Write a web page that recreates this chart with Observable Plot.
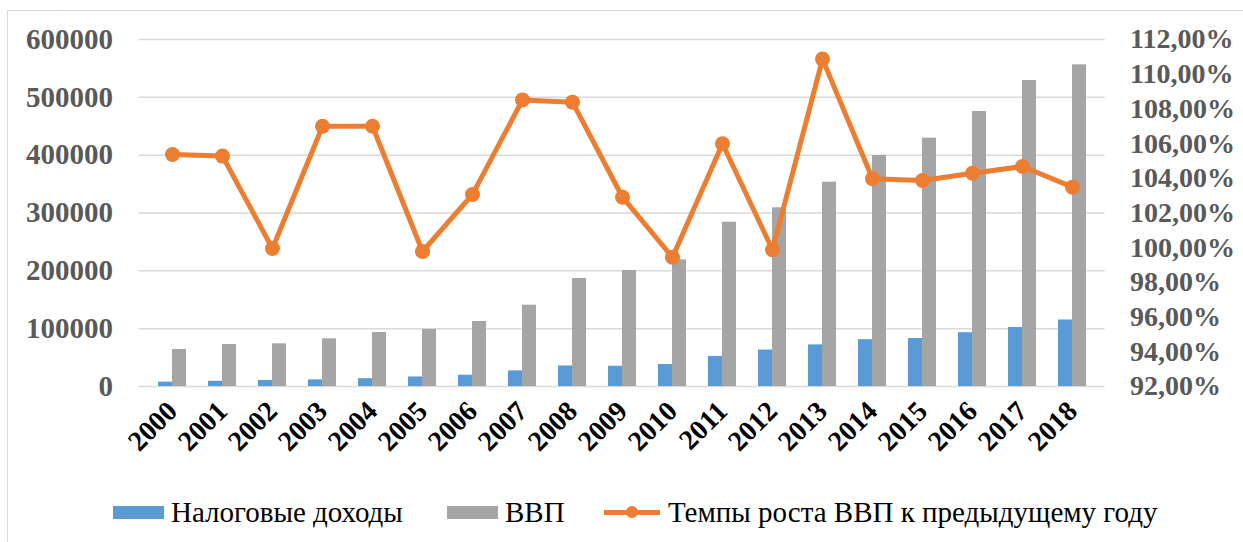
<!DOCTYPE html>
<html><head><meta charset="utf-8">
<script src="https://cdn.jsdelivr.net/npm/d3@7"></script>
<script src="https://cdn.jsdelivr.net/npm/@observablehq/plot@0.6"></script>
<style>
body{margin:0;background:#fff;font-family:"Liberation Serif","Times New Roman","DejaVu Serif",serif;}
#wrap{position:relative;width:1243px;height:542px;overflow:hidden;background:#fff;}
#frame{position:absolute;left:7px;top:10px;width:1300px;height:600px;border-left:1.5px solid #D9D9D9;border-top:1.5px solid #D9D9D9;}
#chart{position:absolute;left:0;top:0;}
.item{position:absolute;top:497px;height:30px;display:flex;align-items:center;font-size:29px;color:#000;white-space:nowrap;font-family:"Liberation Serif","Times New Roman","DejaVu Serif",serif;}
.sw{display:inline-block;width:51px;height:13px;margin-right:7px;}
.ln{position:relative;display:inline-block;width:56px;height:30px;margin-right:8px;}
.ln:before{content:"";position:absolute;left:0;right:0;top:13px;height:4.5px;background:#ED7D31;}
.ln:after{content:"";position:absolute;left:22px;top:9px;width:12px;height:12px;border-radius:50%;background:#ED7D31;}
</style></head>
<body>
<div id="wrap">
<div id="frame"></div>
<div id="chart"></div>
<div class="item" style="left:113px"><span class="sw" style="background:#5B9BD5"></span><span>Налоговые доходы</span></div>
<div class="item" style="left:447px"><span class="sw" style="background:#A5A5A5"></span><span>ВВП</span></div>
<div class="item" style="left:604px"><span class="ln"></span><span>Темпы роста ВВП к предыдущему году</span></div>
</div>
<script>
const years = [2000,2001,2002,2003,2004,2005,2006,2007,2008,2009,2010,2011,2012,2013,2014,2015,2016,2017,2018];
const tax = [7500,9000,10500,11500,13500,16500,19500,27000,35500,35000,38000,52000,63000,72000,81000,83000,93000,102000,115000];
const gdp = [64000,72600,73800,82400,93400,98600,112400,140600,186700,200600,219000,284100,309000,353300,399400,429400,475500,529100,556200];
const growth = [105.37,105.28,99.95,107.0,107.0,99.78,103.07,108.52,108.39,102.91,99.45,105.99,99.88,110.87,103.97,103.87,104.29,104.68,103.49];
const leftTicks = [0,100000,200000,300000,400000,500000,600000];
const rightTicks = [92,94,96,98,100,102,104,106,108,110,112];

const yMax = 600000, rMin = 92, rMax = 112;
const toLeft = p => (p - rMin) / (rMax - rMin) * yMax;
const fromLeft = v => rMin + v / yMax * (rMax - rMin);

const data = years.map((y, i) => ({year: String(y), tax: tax[i], gdp: gdp[i], gl: toLeft(growth[i])}));
const serif = "'Liberation Serif', 'Times New Roman', 'DejaVu Serif', serif";

const chart = Plot.plot({
  width: 1243, height: 470,
  marginLeft: 138.6, marginRight: 138.4, marginTop: 39, marginBottom: 84,
  style: {fontFamily: serif, background: "transparent", overflow: "visible"},
  x: {type: "band", domain: years.map(String), paddingInner: 0.449, paddingOuter: 0.2245, axis: null, label: null},
  y: {domain: [0, yMax], axis: null},
  marks: [
    Plot.gridY(leftTicks, {stroke: "#D9D9D9", strokeOpacity: 1, strokeWidth: 1.5}),
    Plot.barY(data, {x: "year", y: "tax", fill: "#5B9BD5", insetRight: 14}),
    Plot.barY(data, {x: "year", y: "gdp", fill: "#A5A5A5", insetLeft: 14}),
    Plot.line(data, {x: "year", y: "gl", stroke: "#ED7D31", strokeWidth: 5, strokeLinejoin: "round"}),
    Plot.dot(data, {x: "year", y: "gl", fill: "#ED7D31", r: 7.5}),
    Plot.axisY(leftTicks, {anchor: "left", tickSize: 0, tickPadding: 26, fontSize: 29, fontWeight: "bold", fontFamily: serif, fill: "#595959", tickFormat: d => String(d), label: null}),
    Plot.axisY(rightTicks.map(toLeft), {anchor: "right", tickSize: 0, tickPadding: 25, fontSize: 28, fontWeight: "bold", fontFamily: serif, fill: "#595959", label: null,
      tickFormat: v => Math.round(fromLeft(v)).toFixed(2).replace(".", ",") + "%"}),
    Plot.axisX({tickSize: 0, tickRotate: -45, tickPadding: 20, fontSize: 28, fontWeight: "bold", fontFamily: serif, fill: "#000", label: null})
  ]
});
document.getElementById("chart").appendChild(chart);
</script>
</body></html>
